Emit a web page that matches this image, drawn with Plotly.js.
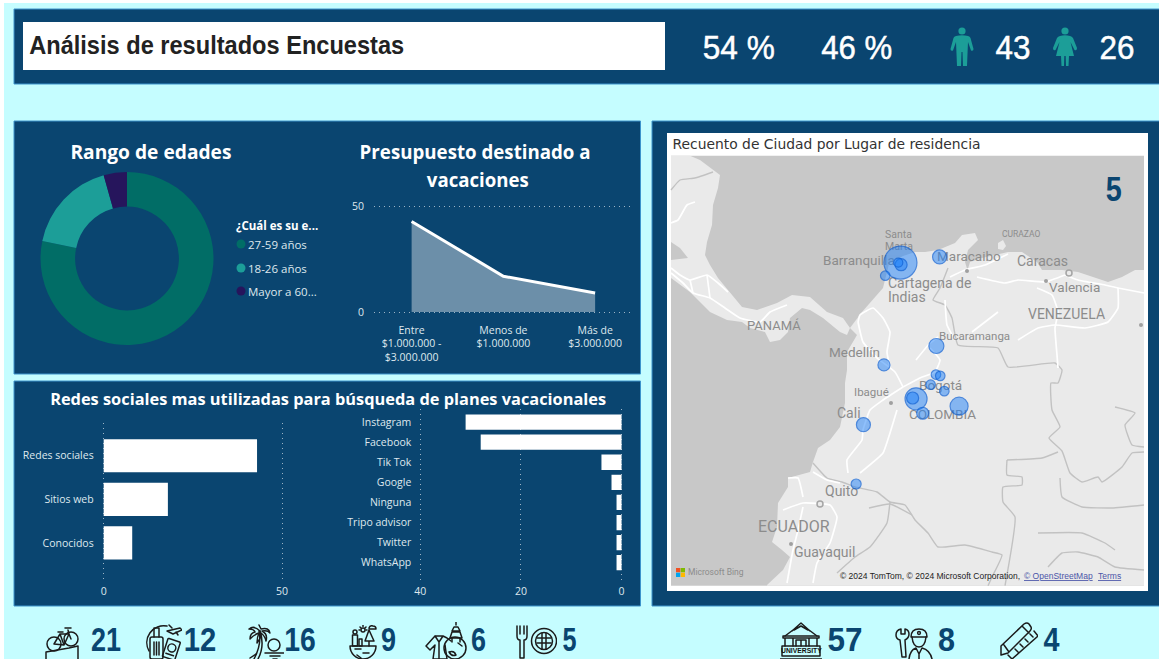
<!DOCTYPE html>
<html>
<head>
<meta charset="utf-8">
<script src="https://cdn.plot.ly/plotly-3.0.1.min.js"></script>
<style>html,body{margin:0;padding:0;background:#fff;overflow:hidden}#c{width:1159px;height:659px}</style>
</head>
<body>
<div id="c"></div>
<script>
// ---------- chart data ----------
const ageLabels = ['27-59 años', '18-26 años', 'Mayor a 60...'];
const ageValues = [54, 12, 3];
const budgetCats = ['Entre<br>$1.000.000 -<br>$3.000.000', 'Menos de<br>$1.000.000', 'Más de<br>$3.000.000'];
const budgetVals = [43, 17, 9];
const sourceCats = ['Redes sociales', 'Sitios web', 'Conocidos'];
const sourceVals = [43, 18, 8];
const networkCats = ['Instagram', 'Facebook', 'Tik Tok', 'Google', 'Ninguna', 'Tripo advisor', 'Twitter', 'WhatsApp'];
const networkVals = [31, 28, 4, 2, 1, 1, 1, 1];
const cityLon = [-74.79,-74.76,-74.89,-75.5,-72.96,-73.11,-75.56,-74.06,-74.22,-73.75,-72.05,-73.38,-72.74,-73.13,-72.93,-76.52,-76.86];
const cityLat = [10.98,10.88,10.98,10.37,11.24,7.1,6.22,4.64,4.68,3.97,4.3,5.3,5.0,5.77,5.71,3.44,0.68];
const cityBubble = [33,12,9,9.5,14,15,12,22,12,12,18,9.5,9.5,9.5,9.5,14,10];
const topStats = ['54 %', '46 %', '43', '26'];
const bottomStats = ['21', '12', '16', '9', '6', '5', '57', '8', '4'];

// ---------- map background outlines (page pixels) ----------
const landSouth = [[767,585.7],[767,585],[783,570],[790,557],[782,550],[772,542],[777,527],[778,503],[788,487],[788,478],[810,472],[813,462],[818,448],[830,440],[840,427],[845,403],[845,383],[847,370],[847,352],[857,335],[850,328],[862,312],[883,288],[885,280],[889,264],[903,256],[915,252],[925,252],[938,250],[955,243],[962,235],[975,233],[978,240],[968,250],[965,262],[968,272],[977,280],[981,295],[972,305],[962,295],[964,282],[967,272],[970,262],[982,258],[995,255],[1008,252],[1022,252],[1037,262],[1042,270],[1062,270],[1078,272],[1095,278],[1108,282],[1122,277],[1135,270],[1144,270],[1144,585.7]];
const landCentral = [[671,155.7],[690,155.7],[700,160],[713,170],[720,175],[718,188],[713,205],[712,225],[707,242],[705,255],[710,265],[718,278],[728,290],[742,307],[757,310],[777,303],[792,295],[810,297],[827,312],[843,318],[850,328],[847,335],[840,332],[823,318],[810,310],[802,308],[790,318],[788,332],[780,340],[770,342],[765,332],[750,328],[742,322],[727,320],[710,312],[690,292],[671,278]];
const gulf = [[671,242],[680,248],[688,258],[671,260]];
const curazao = [[998,243],[1003,240],[1006,246],[1003,250],[998,249]];
const borders = [
 [[671,190],[680,180],[695,178],[713,172]],
 [[948,268],[940,288],[933,300],[945,305],[952,318],[958,345],[998,348],[1008,367],[1055,363],[1062,370],[1058,383],[1051,383],[1052,410],[1060,427],[1049,438],[1062,451],[1070,473],[1082,482],[1098,477],[1102,482],[1122,467],[1132,453],[1144,452]],
 [[1007,460],[1042,458],[1058,452]],
 [[1007,460],[1007,475],[1022,477],[1022,485],[1003,487],[1003,502],[1015,517],[1005,585.7]],
 [[813,463],[827,478],[842,482],[855,487],[877,492],[890,502],[905,505],[915,520],[928,533],[938,547],[965,545],[992,552],[1002,555],[992,577],[988,585.7]],
 [[890,502],[887,523],[870,547],[855,557],[837,573]],
 [[1060,478],[1062,497],[1082,507],[1112,508],[1144,505]],
 [[1115,407],[1135,413],[1125,425],[1132,445],[1144,447]],
 [[1038,533],[1082,533],[1105,543],[1115,550]],
 [[1048,567],[1062,553],[1078,552],[1098,557],[1115,567],[1144,570]],
 [[869,508],[890,504],[912,515]]
];
const roads = [
 [[671,223],[678,220],[687,205],[695,202]],
 [[671,268],[680,275],[690,280],[707,275],[718,283],[728,292]],
 [[671,273],[683,283],[693,293],[710,298],[725,308],[740,318],[760,322],[770,312],[787,305]],
 [[690,280],[693,293]],[[707,275],[710,298]],
 [[858,322],[860,315],[873,308],[883,318],[890,332],[887,352],[890,368]],
 [[858,322],[863,342],[877,358],[895,372],[903,387]],
 [[903,387],[883,400],[870,410],[863,430],[862,440],[847,460],[848,473]],
 [[897,410],[890,433],[883,453],[860,473]],
 [[903,387],[920,378],[935,372],[940,360],[930,348]],
 [[788,478],[798,478],[803,497]],
 [[813,472],[827,480],[840,483]],
 [[783,510],[803,503],[830,505],[837,517],[830,543],[817,563],[813,583]],
 [[803,507],[798,530],[793,550],[787,583]],
 [[950,277],[965,270],[985,265],[1008,254]],
 [[977,277],[1005,283],[1018,280],[1045,282],[1065,275]],
 [[1065,275],[1078,280],[1105,285],[1118,288],[1144,293]],
 [[1037,288],[1052,295],[1058,312],[1055,328],[1057,355],[1058,368]],
 [[1018,340],[1038,328],[1055,325],[1085,328],[1108,322],[1118,308],[1118,288]],
 [[972,332],[998,312]],
 [[945,300],[947,325],[955,340]],
 [[916,360],[930,343],[938,337]]
];
const mapDots = [[967,271],[1046,281],[1141,325],[891,403],[791,544]];
const mapRings = [[1069,273],[820,504]];
const mapLabels = [
 ['Santa',885,235,10.5],['Marta',885,247,10.5],['Barranquilla',823,262,13.5],['Cartagena de',888,284,14],['Indias',888,298,14],
 ['Maracaibo',937,258,13.5],['Caracas',1017,262,14],['Valencia',1049,289,13.5],['VENEZUELA',1028,315,14],['CURAZAO',1002,235,8.5],
 ['PANAMÁ',747,327,13],['Bucaramanga',939,337,11.5],['Medellín',829,354,13.5],['Ibagué',854,393,11.5],['Bogotá',919,387,13.5],
 ['Cali',837,414,14],['COLOMBIA',909,416,13.5],['Quito',825,492,14],['ECUADOR',758,528,16],['Guayaquil',794,553,14],['Microsoft Bing',688,572.5,8.5]
];

// ---------- palette ----------
const navy = '#0a4570', mint = '#c5fdff', edge = '#3d94cc';
const ageColors = ['#016d66', '#1c9e98', '#26155c'];
const segoe = '"Open Sans","Noto Sans",sans-serif';
const din = '"Liberation Sans",sans-serif';
const gridC = 'rgba(255,255,255,0.6)';
const gridDash = '1px,4px';
const tickC = '#dfe8ee';

const W = 1159, H = 659;
const dx = (a, b) => [a / W, b / W];
const dy = (top, bottom) => [1 - bottom / H, 1 - top / H];
const xs = l => l.map(p => p[0]), ys = l => l.map(p => p[1]);
const rect = (x0, y0, x1, y1, fill, line) => ({type:'rect', xref:'x', yref:'y', x0, y0, x1, y1, fillcolor:fill, layer:'below', line: line ? {color:line, width:1} : {width:0}});
const circle = (cx, cy, r, fill) => ({type:'circle', xref:'x', yref:'y', x0:cx-r, x1:cx+r, y0:cy-r, y1:cy+r, fillcolor:fill, layer:'above', line:{width:0}});
const note = (text, x, y, size, color, opts) => Object.assign({text, x, y, xref:'x', yref:'y', showarrow:false, xanchor:'center', yanchor:'middle', font:{size, color, family:segoe}}, opts||{});
// a condensed face is not installed: fitWidth squeezes the real text to the width it has in the reference
const narrow = (text, cx, cy, size, color, weight, width, thicken) => note(text, cx, cy, size, color, {font:{size, color, family:din, weight}, fitWidth:width, thicken});

function lineTraces(list, color, width) {
  return list.map(l => ({type:'scatter', mode:'lines', x:xs(l), y:ys(l), xaxis:'x', yaxis:'y', line:{color, width, shape:'spline', smoothing:0.4}, hoverinfo:'skip', showlegend:false}));
}
function polyTrace(l, color) {
  return {type:'scatter', mode:'lines', x:xs(l).concat(l[0][0]), y:ys(l).concat(l[0][1]), xaxis:'x', yaxis:'y', fill:'toself', fillcolor:color, line:{width:0, color}, hoverinfo:'skip', showlegend:false};
}

const traces = [
  polyTrace(landCentral, '#eaeaea'), polyTrace(landSouth, '#eaeaea'), polyTrace(gulf, '#c8c8c8'), polyTrace(curazao, '#eaeaea'),
  ...lineTraces(borders, '#c2c2c2', 1.4),
  ...lineTraces(roads, '#ffffff', 1.7),
  {type:'scatter', mode:'markers', x:xs(mapDots), y:ys(mapDots), xaxis:'x', yaxis:'y', marker:{size:4, color:'#a0a0a0'}, hoverinfo:'skip', showlegend:false},
  {type:'scatter', mode:'markers', x:xs(mapRings), y:ys(mapRings), xaxis:'x', yaxis:'y', marker:{size:6, color:'#eaeaea', line:{color:'#a5a5a5', width:1.5}}, hoverinfo:'skip', showlegend:false},
  {type:'scatter', mode:'text', x:mapLabels.map(l=>l[1]), y:mapLabels.map(l=>l[2]), text:mapLabels.map(l=>l[0]), textposition:'middle right', xaxis:'x', yaxis:'y',
   textfont:{family:'Roboto,sans-serif', size:mapLabels.map(l=>l[3]), color:'#8c8c8c'}, hoverinfo:'skip', showlegend:false},
  {type:'pie', labels:ageLabels, values:ageValues, hole:0.6, sort:false, direction:'clockwise', rotation:0, textinfo:'none', hoverinfo:'label+value',
   marker:{colors:ageColors, line:{width:0}}, domain:{x:dx(40.5,213.5), y:dy(172,345)}, showlegend:false},
  {type:'scatter', mode:'lines', x:budgetCats, y:budgetVals, xaxis:'x2', yaxis:'y2', fill:'tozeroy', fillcolor:'rgba(255,255,255,0.4)', line:{color:'#ffffff', width:3}, showlegend:false},
  {type:'bar', orientation:'h', x:sourceVals, y:sourceCats, xaxis:'x3', yaxis:'y3', marker:{color:'#ffffff', line:{width:0}}, showlegend:false},
  {type:'bar', orientation:'h', x:networkVals, y:networkCats, xaxis:'x4', yaxis:'y4', marker:{color:'#ffffff', line:{width:0}}, showlegend:false},
  {type:'scatter', mode:'markers', x:cityLon, y:cityLat, xaxis:'x5', yaxis:'y5',
   marker:{size:cityBubble, color:'rgba(28,128,250,0.7)', line:{color:'#0a5ed4', width:1.2}}, showlegend:false}
];

const hidden = {visible:false, fixedrange:true, showgrid:false, zeroline:false};
const tickFont = {family:segoe, size:10.5, color:tickC};
const title1 = {size:19.3, color:'#ffffff', family:segoe, weight:700};
const layout = {
  width:W, height:H, margin:{l:0,r:0,t:0,b:0,pad:0}, paper_bgcolor:'#ffffff', plot_bgcolor:'rgba(0,0,0,0)', showlegend:false, dragmode:false, hovermode:'closest', bargap:0.24,
  xaxis:Object.assign({domain:[0,1], range:[0,W]}, hidden),
  yaxis:Object.assign({domain:[0,1], range:[H,0]}, hidden),
  xaxis2:{domain:dx(374,630), anchor:'y2', type:'category', categoryorder:'array', categoryarray:budgetCats, range:[-0.41,2.38], showgrid:false, zeroline:false, showline:false, ticks:'', tickfont:tickFont, ticklabelstandoff:7, fixedrange:true, tickangle:0},
  yaxis2:{domain:dy(203.7,315), anchor:'x2', range:[-1.42,51.42], tickvals:[0,50], showgrid:true, griddash:gridDash, gridcolor:gridC, gridwidth:1, zeroline:false, showline:false, ticks:'', tickfont:tickFont, ticklabelstandoff:9, fixedrange:true},
  xaxis3:{domain:dx(99.7,286), anchor:'y3', range:[-1.12,51.12], tickvals:[0,50], showgrid:true, griddash:gridDash, gridcolor:gridC, zeroline:false, showline:false, ticks:'', tickfont:tickFont, ticklabelstandoff:3, fixedrange:true},
  yaxis3:{domain:dy(423,580), anchor:'x3', type:'category', categoryorder:'array', categoryarray:sourceCats, range:[2.85,-0.75], showgrid:false, zeroline:false, showline:false, ticks:'', tickfont:tickFont, ticklabelstandoff:5, fixedrange:true},
  xaxis4:{domain:dx(416.3,625.6), anchor:'y4', range:[40.8,-0.8], tickvals:[0,20,40], showgrid:true, griddash:gridDash, gridcolor:gridC, zeroline:false, showline:false, ticks:'', tickfont:tickFont, ticklabelstandoff:3, fixedrange:true},
  yaxis4:{domain:dy(409,580), anchor:'x4', type:'category', categoryorder:'array', categoryarray:networkCats, range:[7.86,-0.65], showgrid:false, zeroline:false, showline:false, ticks:'', tickfont:tickFont, ticklabelstandoff:4, fixedrange:true},
  xaxis5:Object.assign({domain:dx(671,1144), anchor:'y5', range:[-85.51,-63.41]}, hidden),
  yaxis5:Object.assign({domain:dy(155.7,585.7), anchor:'x5', range:[-4.05,15.95]}, hidden),
  shapes:[
    rect(4,3,W,H,mint),
    rect(14,9,W+5,84,navy,edge),
    rect(23,22,665,70,'#ffffff'),
    rect(14,121,640.5,374,navy,edge),
    rect(14,381,640.5,606,navy,edge),
    rect(652,121,W+5,606,navy,edge),
    rect(667,133,1148,591,'#ffffff'),
    rect(671,155.7,1144,585.7,'#c8c8c8'),
    circle(241,244,4.5,ageColors[0]), circle(241,268,4.5,ageColors[1]), circle(241,291,4.5,ageColors[2]),
    Object.assign(rect(676,568,680.3,572.3,'#f25022'),{layer:'above'}), Object.assign(rect(680.7,568,685,572.3,'#7fba00'),{layer:'above'}),
    Object.assign(rect(676,572.7,680.3,577,'#00a4ef'),{layer:'above'}), Object.assign(rect(680.7,572.7,685,577,'#ffb900'),{layer:'above'})
  ],
  annotations:[
    narrow('Análisis de resultados Encuestas',216.5,45,25,'#222222',700,375),
    narrow(topStats[0],739,46.5,34,'#ffffff',400,72,true),
    narrow(topStats[1],856.5,46.5,34,'#ffffff',400,71,true),
    narrow(topStats[2],1012.5,46.5,34,'#ffffff',400,35,true),
    narrow(topStats[3],1116.5,46.5,34,'#ffffff',400,35,true),
    note('Rango de edades',151,151.5,19.3,'#ffffff',{font:title1,fitWidth:161}),
    note('Presupuesto destinado a',474.5,151.5,19.3,'#ffffff',{font:title1,fitWidth:231}),
    note('vacaciones',478,179.5,19.3,'#ffffff',{font:title1,fitWidth:102}),
    note('¿Cuál es su e...',234,225,11.5,'#ffffff',{xanchor:'left',font:{size:11.5,color:'#ffffff',family:segoe,weight:700}}),
    note(ageLabels[0],246,244,11.5,tickC,{xanchor:'left'}),
    note(ageLabels[1],246,268,11.5,tickC,{xanchor:'left'}),
    note(ageLabels[2],246,291,11.5,tickC,{xanchor:'left'}),
    note('Redes sociales mas utilizadas para búsqueda de planes vacacionales',328,399,16.2,'#ffffff',{font:{size:16.2,color:'#ffffff',family:segoe,weight:700},fitWidth:556}),
    note('Recuento de Ciudad por Lugar de residencia',826,143.5,14,'#333333',{font:{size:14,color:'#333333',family:'DejaVu Sans'},fitWidth:308}),
    narrow('5',1113,188,35,navy,700,16),
    note('© 2024 TomTom, © 2024 Microsoft Corporation,',838,575.5,8.5,'#222222',{xanchor:'left',font:{size:8.5,color:'#222222',family:'Liberation Sans'}}),
    note('<u>© OpenStreetMap</u>',1021.5,575.5,8.5,'#4a55a8',{xanchor:'left',font:{size:8.5,color:'#4a55a8',family:'Liberation Sans'}}),
    note('<u>Terms</u>',1096,575.5,8.5,'#4a55a8',{xanchor:'left',font:{size:8.5,color:'#4a55a8',family:'Liberation Sans'}}),
    ...[[106,30],[200,32.5],[299.5,31.5],[388.5,15],[478.5,15],[569,14],[844.5,35],[946.5,17],[1051,16]]
      .map((p,i) => narrow(bottomStats[i],p[0],639,34,navy,700,p[1])),
    note('<b>UNIVERSITY</b>',801,650.5,6.8,'#111111',{font:{size:6.8,color:'#111111',family:'Liberation Sans'}})
  ],
  images:[]
};

// ---------- pictograms ----------
const S = 'fill="none" stroke="#1b1b1b" stroke-width="1.5" stroke-linecap="round" stroke-linejoin="round"';
const icons = [
 [950,27,24,39,'0 0 24 39','<g fill="#1c9e98"><circle cx="12" cy="4" r="3.6"/><path d="M6 9 Q12 7.5 18 9 Q20 9.5 20.5 11 L23.5 22 Q23.5 24.5 21 23.5 L18 15 L17 39 L13 39 L12.5 25 L11.5 25 L11 39 L7 39 L6 15 L3 23.5 Q0.5 24.5 0.5 22 L3.5 11 Q4 9.5 6 9 Z"/></g>'],
 [1052,27,26,39,'0 0 26 39','<g fill="#1c9e98"><circle cx="13" cy="4" r="3.6"/><path d="M8 9 Q13 7.5 18 9 Q20 9.5 21 11 L25 21 Q25 24 22.5 23 L18.5 15 L22 29 L17 29 L16.5 39 L14 39 L13.7 29 L12.3 29 L12 39 L9.5 39 L9 29 L4 29 L7.5 15 L3.5 23 Q1 24 1 21 L5 11 Q6 9.5 8 9 Z"/></g>'],
 [45,625,36,34,'0 0 36 34',`<g ${S}><circle cx="9" cy="19" r="7"/><circle cx="26" cy="14" r="7"/><path d="M9 19 L15 9 L24 9 L26 14 M15 9 L19 20 L9 19 M23 5 L24 9 M20 3 H26 M13 7 H18 M19 20 L24 9"/><path d="M1 34 V27 L24 23 L33 21 V34"/></g>`],
 [145,623,37,36,'0 0 37 36',`<g ${S}><path d="M4 28 A17 17 0 0 1 22 3"/><rect x="5" y="14" width="13" height="22" rx="2"/><path d="M9 14 V5 H14 V14 M9 19 V32 M11.5 19 V32 M14 19 V32"/><g transform="rotate(18 27 26)"><rect x="20" y="17" width="13" height="19" rx="1"/><circle cx="26.5" cy="25" r="4"/><path d="M22.5 32 H30.5"/></g><path d="M22 8 L35 5 L37 7 L28 11 Z M27 5 L24 2 M31 9 L33 12"/></g>`],
 [248,624,36,35,'0 0 36 35',`<g ${S}><path d="M11 7 Q14 20 6 35 M10 35 Q17 22 12 7"/><path d="M12 7 Q6 1 1 5 Q6 5 7 8 Q2 9 2 15 Q7 10 11 9 Q9 13 9 19 Q13 14 13 9 Q17 12 18 17 Q20 10 14 7 Q20 6 22 9 Q21 3 13 5 L11 1"/><circle cx="26" cy="21" r="6"/><path d="M17 29 H36 M22 32 H32 M25 35 H29 M2 34 L8 30"/></g>`],
 [349,625,28,34,'0 0 28 34',`<g ${S}><path d="M1 21 H27 A13 13 0 0 1 1 21 Z"/><path d="M6 24 H12 M14 28 H20 M8 30 L12 33"/><circle cx="6" cy="7" r="2"/><rect x="3.5" y="10" width="5" height="11"/><rect x="10" y="14" width="3" height="7"/><path d="M20 21 V16 M16 16 L20 5 L25 16 Z"/><circle cx="14" cy="5" r="2"/><path d="M14 0 V1.5 M10 5 H11 M17 5 H18 M11 2 L12 3 M17 2 L16 3 M20 3 Q21 0 24 1 Q27 1 27 4 H20"/></g>`],
 [425,622,42,37,'0 0 42 37',`<g ${S}><path d="M10 14 L1 24 L5 28 L10 23 L8 37 H22 L20 23 M10 14 L14 20 L18 14 L22 16 L26 19 M14 20 V37 M10 14 H18"/><path d="M31 0 V3 M27 9 H35 L33 5 H29 Z M25 16 H37 L35 10 H27 Z M27 16 V20 M35 16 V20"/><circle cx="30" cy="26" r="11"/><path d="M24 30 Q29 28 31 33 Q27 35 24 30 M33 21 L37 24"/></g>`],
 [516,625,41,34,'0 0 41 34',`<g ${S}><path d="M1 1 V11 Q1 15 4 15 V33 H8 V15 Q11 15 11 11 V1 M4 1 V9 M8 1 V9"/><circle cx="28" cy="16" r="12.5"/><circle cx="28" cy="16" r="8.5"/><path d="M21 13 H35 M21 18 H35 M26 8 V24 M30 8 V24"/></g>`],
 [780,622,42,37,'0 0 42 37',`<g ${S}><path d="M12 9 L21 1 L30 9 M5 14 L13 8 M37 14 L29 8 M14 8 L21 4 L28 8"/><path d="M3 14 H39 V16 H3 Z M5 16 V24 M37 16 V24 M13 16 V24 M29 16 V24 M16 24 V18 H26 V24 M21 18 V24"/><path d="M2 24 H40 V34 H2 Z M0 37 H42"/></g>`],
 [895,627,38,32,'0 0 38 32',`<g ${S}><path d="M6 2 Q1 3 1 8 Q1 12 5 13 L7 30 H11 L10 13 Q14 11 14 7 Q14 3 10 2 V7 H6 Z"/><path d="M16 10 Q16 2 24 2 Q32 2 32 10 Z"/><path d="M17 10 Q18 20 24 20 Q30 20 31 10"/><circle cx="24" cy="6" r="1.4"/><path d="M14 32 Q15 23 21 21 L24 27 L27 21 Q35 23 37 32 M24 27 V32"/></g>`],
 [1000,622,38,37,'0 0 38 37',`<g ${S}><path d="M1 24 L24 2 Q27 0 29 2 L31 5 Q32 7 30 9 L8 31 L1 33 Z M4 23 L9 30 M22 4 L29 11"/><path d="M34 9 L38 14 L12 37 L8 33 M33 15 L30 12 M28 20 L25 17 M23 25 L20 22 M18 30 L15 27"/></g>`]
];
layout.images = icons.map(i => ({
  source:'data:image/svg+xml;utf8,' + encodeURIComponent(`<svg xmlns="http://www.w3.org/2000/svg" width="${i[2]}" height="${i[3]}" viewBox="${i[4]}">${i[5]}</svg>`),
  xref:'x', yref:'y', x:i[0], y:i[1], sizex:i[2], sizey:i[3], xanchor:'left', yanchor:'top', sizing:'stretch', layer:'above'
}));

Plotly.newPlot('c', traces, layout, {displayModeBar:false}).then(gd => {
  layout.annotations.forEach((a, i) => {
    if (!a.fitWidth) return;
    const t = gd.querySelector(`.annotation[data-index="${i}"] .annotation-text`);
    if (!t) return;
    t.setAttribute('textLength', a.fitWidth);
    t.setAttribute('lengthAdjust', 'spacingAndGlyphs');
    if (a.thicken) { t.style.stroke = a.font.color; t.style.strokeWidth = '0.5px'; }
  });
});
</script>
</body>
</html>
